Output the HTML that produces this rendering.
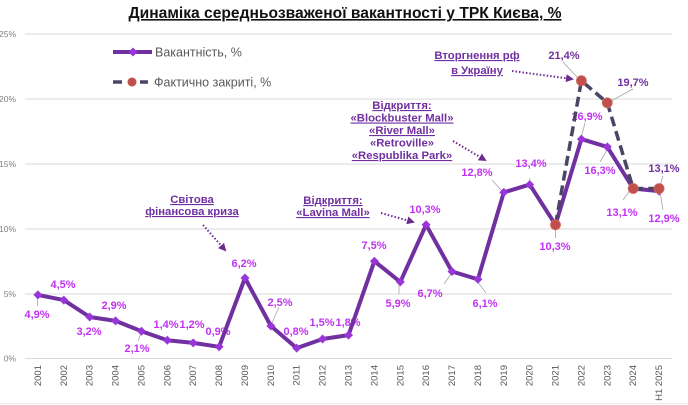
<!DOCTYPE html>
<html><head><meta charset="utf-8"><style>
html,body{margin:0;padding:0;background:#fff;}
svg{display:block;font-family:"Liberation Sans",Arial,sans-serif;}
.yl{font-size:8.5px;fill:#808080;text-anchor:end;}
.xl{font-size:9.5px;fill:#595959;text-anchor:end;}
.dl{font-size:11px;font-weight:bold;fill:#C232F2;text-anchor:middle;}
.dk{font-size:11px;font-weight:bold;fill:#7030A0;text-anchor:middle;}
.an{font-size:11.3px;font-weight:bold;fill:#7030A0;text-anchor:middle;text-decoration:underline;}
.ld{stroke:#a6a6a6;stroke-width:0.8;fill:none;}
</style></head><body>
<svg width="688" height="405" viewBox="0 0 688 405" xmlns="http://www.w3.org/2000/svg">
<defs>
<marker id="ah" markerWidth="8" markerHeight="8" refX="6" refY="4" orient="auto" markerUnits="userSpaceOnUse">
<path d="M0,0 L8,4 L0,8 Z" fill="#6B2C91"/>
</marker>
</defs>
<!-- title -->
<text x="345" y="18" font-size="16" font-weight="bold" fill="#111" text-anchor="middle" text-decoration="underline" textLength="433" lengthAdjust="spacingAndGlyphs">Динаміка середньозваженої вакантності у ТРК Києва, %</text>

<!-- gridlines -->
<g stroke="#d9d9d9" stroke-width="1">
<line x1="25" y1="34" x2="672" y2="34"/>
<line x1="25" y1="99" x2="672" y2="99"/>
<line x1="25" y1="164" x2="672" y2="164"/>
<line x1="25" y1="229" x2="672" y2="229"/>
<line x1="25" y1="294" x2="672" y2="294"/>
<line x1="25" y1="358.5" x2="672" y2="358.5"/>
</g>
<line x1="0" y1="403.5" x2="688" y2="403.5" stroke="#ececec" stroke-width="1"/>

<!-- y labels -->
<text class="yl" x="16" y="37">25%</text>
<text class="yl" x="16" y="102">20%</text>
<text class="yl" x="16" y="167">15%</text>
<text class="yl" x="16" y="232">10%</text>
<text class="yl" x="16" y="297">5%</text>
<text class="yl" x="16" y="361.5">0%</text>

<!-- x labels -->
<g>
<text class="xl" transform="translate(40.9,365) rotate(-90)">2001</text>
<text class="xl" transform="translate(66.8,365) rotate(-90)">2002</text>
<text class="xl" transform="translate(92.7,365) rotate(-90)">2003</text>
<text class="xl" transform="translate(118.6,365) rotate(-90)">2004</text>
<text class="xl" transform="translate(144.5,365) rotate(-90)">2005</text>
<text class="xl" transform="translate(170.3,365) rotate(-90)">2006</text>
<text class="xl" transform="translate(196.2,365) rotate(-90)">2007</text>
<text class="xl" transform="translate(222.1,365) rotate(-90)">2008</text>
<text class="xl" transform="translate(248.0,365) rotate(-90)">2009</text>
<text class="xl" transform="translate(273.9,365) rotate(-90)">2010</text>
<text class="xl" transform="translate(299.7,365) rotate(-90)">2011</text>
<text class="xl" transform="translate(325.6,365) rotate(-90)">2012</text>
<text class="xl" transform="translate(351.5,365) rotate(-90)">2013</text>
<text class="xl" transform="translate(377.4,365) rotate(-90)">2014</text>
<text class="xl" transform="translate(403.3,365) rotate(-90)">2015</text>
<text class="xl" transform="translate(429.1,365) rotate(-90)">2016</text>
<text class="xl" transform="translate(455.0,365) rotate(-90)">2017</text>
<text class="xl" transform="translate(480.9,365) rotate(-90)">2018</text>
<text class="xl" transform="translate(506.8,365) rotate(-90)">2019</text>
<text class="xl" transform="translate(532.7,365) rotate(-90)">2020</text>
<text class="xl" transform="translate(558.5,365) rotate(-90)">2021</text>
<text class="xl" transform="translate(584.4,365) rotate(-90)">2022</text>
<text class="xl" transform="translate(610.3,365) rotate(-90)">2023</text>
<text class="xl" transform="translate(636.2,365) rotate(-90)">2024</text>
<text class="xl" transform="translate(662.1,365) rotate(-90)">H1 2025</text>
</g>

<!-- legend -->
<line x1="113" y1="52" x2="152" y2="52" stroke="#7030A0" stroke-width="4"/>
<path d="M133,47.5 L137.5,52 L133,56.5 L128.5,52 Z" fill="#9A35DA"/>
<text x="155" y="56.5" font-size="12.5" fill="#595959">Вакантність, %</text>
<line x1="113" y1="82" x2="122" y2="82" stroke="#4B4565" stroke-width="3.5"/>
<line x1="140" y1="82" x2="148" y2="82" stroke="#4B4565" stroke-width="3.5"/>
<circle cx="132" cy="82" r="4.5" fill="#C0504D"/>
<text x="154" y="86.5" font-size="12.5" fill="#595959">Фактично закриті, %</text>

<!-- annotations -->
<text class="an" x="192" y="203">Світова</text>
<text class="an" x="192" y="215">фінансова криза</text>
<line x1="203" y1="225" x2="225" y2="250" stroke="#6B2C91" stroke-width="2" stroke-dasharray="1.5,2" marker-end="url(#ah)"/>

<text class="an" x="333" y="204">Відкриття:</text>
<text class="an" x="333" y="216">«Lavina Mall»</text>
<line x1="381" y1="213" x2="413" y2="222" stroke="#6B2C91" stroke-width="2" stroke-dasharray="1.5,2" marker-end="url(#ah)"/>

<text class="an" x="402" y="109">Відкриття:</text>
<text class="an" x="402" y="121.5">«Blockbuster Mall»</text>
<text class="an" x="402" y="134">«River Mall»</text>
<text class="an" x="402" y="146.5" text-decoration="none" style="text-decoration:none">«Retroville»</text>
<text class="an" x="402" y="159">«Respublika Park»</text>
<line x1="453" y1="141" x2="485" y2="160" stroke="#6B2C91" stroke-width="2" stroke-dasharray="1.5,2" marker-end="url(#ah)"/>

<text class="an" x="477" y="59">Вторгнення рф</text>
<text class="an" x="477" y="74">в Україну</text>
<line x1="512" y1="71" x2="572" y2="79" stroke="#6B2C91" stroke-width="2" stroke-dasharray="1.5,2" marker-end="url(#ah)"/>

<!-- data labels -->
<text class="dl" x="37" y="318">4,9%</text>
<text class="dl" x="63" y="288">4,5%</text>
<text class="dl" x="89" y="335">3,2%</text>
<text class="dl" x="114" y="309">2,9%</text>
<text class="dl" x="137" y="352">2,1%</text>
<text class="dl" x="166" y="328">1,4%</text>
<text class="dl" x="192" y="328">1,2%</text>
<text class="dl" x="218" y="335">0,9%</text>
<text class="dl" x="244" y="267">6,2%</text>
<text class="dl" x="280" y="306">2,5%</text>
<text class="dl" x="296" y="335">0,8%</text>
<text class="dl" x="322" y="326">1,5%</text>
<text class="dl" x="348" y="326">1,8%</text>
<text class="dl" x="374" y="249">7,5%</text>
<text class="dl" x="398" y="307">5,9%</text>
<text class="dl" x="425" y="213">10,3%</text>
<text class="dl" x="430" y="297">6,7%</text>
<text class="dl" x="485" y="307">6,1%</text>
<text class="dl" x="477" y="176">12,8%</text>
<text class="dl" x="531" y="167">13,4%</text>
<text class="dl" x="555" y="250">10,3%</text>
<text class="dl" x="587" y="120">16,9%</text>
<text class="dl" x="600" y="174">16,3%</text>
<text class="dl" x="622" y="216">13,1%</text>
<text class="dl" x="664" y="222">12,9%</text>
<text class="dk" x="664" y="172">13,1%</text>
<text class="dk" x="564" y="59">21,4%</text>
<text class="dk" x="633" y="86">19,7%</text>

<!-- leader lines -->
<line class="ld" x1="37.5" y1="297" x2="37.5" y2="306"/>
<line class="ld" x1="138" y1="341" x2="141" y2="333"/>
<line class="ld" x1="279" y1="307" x2="272" y2="323"/>
<line class="ld" x1="399" y1="284" x2="399" y2="294"/>
<line class="ld" x1="451" y1="274" x2="444" y2="284"/>
<line class="ld" x1="477" y1="281" x2="486" y2="293"/>
<line class="ld" x1="492" y1="180" x2="502" y2="191"/>
<line class="ld" x1="530" y1="178" x2="529" y2="184"/>
<line class="ld" x1="555.5" y1="227" x2="555.5" y2="238"/>
<line class="ld" x1="585" y1="123" x2="581" y2="138"/>
<line class="ld" x1="607" y1="150" x2="600" y2="162"/>
<line class="ld" x1="630" y1="190" x2="623" y2="200"/>
<line class="ld" x1="660" y1="192" x2="663" y2="210"/>
<line class="ld" x1="663" y1="176" x2="660" y2="186"/>
<line class="ld" x1="563" y1="62" x2="578" y2="78"/>
<line class="ld" x1="633" y1="89" x2="611" y2="101"/>

<!-- vacancy line -->
<polyline fill="none" stroke="#7030A0" stroke-width="4" stroke-linejoin="round"
points="37.9,294.9 63.8,300.1 89.7,317.0 115.6,320.9 141.5,331.2 167.3,340.3 193.2,342.9 219.1,346.8 245.0,278.0 270.9,326.0 296.7,348.1 322.6,339.0 348.5,335.1 374.4,261.2 400.3,281.9 426.1,224.8 452.0,271.5 477.9,279.3 503.8,192.4 529.7,184.6 555.5,224.8 581.4,139.1 607.3,146.9 633.2,188.5 659.1,191.1"/>
<g fill="#9A35DA">
<path d="M37.9,290.4 l4.5,4.5 l-4.5,4.5 l-4.5,-4.5 Z"/>
<path d="M63.8,295.6 l4.5,4.5 l-4.5,4.5 l-4.5,-4.5 Z"/>
<path d="M89.7,312.5 l4.5,4.5 l-4.5,4.5 l-4.5,-4.5 Z"/>
<path d="M115.6,316.4 l4.5,4.5 l-4.5,4.5 l-4.5,-4.5 Z"/>
<path d="M141.5,326.7 l4.5,4.5 l-4.5,4.5 l-4.5,-4.5 Z"/>
<path d="M167.3,335.8 l4.5,4.5 l-4.5,4.5 l-4.5,-4.5 Z"/>
<path d="M193.2,338.4 l4.5,4.5 l-4.5,4.5 l-4.5,-4.5 Z"/>
<path d="M219.1,342.3 l4.5,4.5 l-4.5,4.5 l-4.5,-4.5 Z"/>
<path d="M245.0,273.5 l4.5,4.5 l-4.5,4.5 l-4.5,-4.5 Z"/>
<path d="M270.9,321.5 l4.5,4.5 l-4.5,4.5 l-4.5,-4.5 Z"/>
<path d="M296.7,343.6 l4.5,4.5 l-4.5,4.5 l-4.5,-4.5 Z"/>
<path d="M322.6,334.5 l4.5,4.5 l-4.5,4.5 l-4.5,-4.5 Z"/>
<path d="M348.5,330.6 l4.5,4.5 l-4.5,4.5 l-4.5,-4.5 Z"/>
<path d="M374.4,256.7 l4.5,4.5 l-4.5,4.5 l-4.5,-4.5 Z"/>
<path d="M400.3,277.4 l4.5,4.5 l-4.5,4.5 l-4.5,-4.5 Z"/>
<path d="M426.1,220.3 l4.5,4.5 l-4.5,4.5 l-4.5,-4.5 Z"/>
<path d="M452.0,267.0 l4.5,4.5 l-4.5,4.5 l-4.5,-4.5 Z"/>
<path d="M477.9,274.8 l4.5,4.5 l-4.5,4.5 l-4.5,-4.5 Z"/>
<path d="M503.8,187.9 l4.5,4.5 l-4.5,4.5 l-4.5,-4.5 Z"/>
<path d="M529.7,180.1 l4.5,4.5 l-4.5,4.5 l-4.5,-4.5 Z"/>
<path d="M555.5,220.3 l4.5,4.5 l-4.5,4.5 l-4.5,-4.5 Z"/>
<path d="M581.4,134.6 l4.5,4.5 l-4.5,4.5 l-4.5,-4.5 Z"/>
<path d="M607.3,142.4 l4.5,4.5 l-4.5,4.5 l-4.5,-4.5 Z"/>
<path d="M633.2,184.0 l4.5,4.5 l-4.5,4.5 l-4.5,-4.5 Z"/>
<path d="M659.1,186.6 l4.5,4.5 l-4.5,4.5 l-4.5,-4.5 Z"/>
</g>

<!-- fact line -->
<polyline fill="none" stroke="#4B4565" stroke-width="3.5" stroke-dasharray="10,5"
points="555.5,224.8 581.4,80.7 607.3,102.8 633.2,188.5 659.1,188.5"/>
<g fill="#C0504D" stroke="#d36a5e" stroke-width="0.8">
<circle cx="555.5" cy="224.8" r="5"/>
<circle cx="581.4" cy="80.7" r="5"/>
<circle cx="607.3" cy="102.8" r="5"/>
<circle cx="633.2" cy="188.5" r="5"/>
<circle cx="659.1" cy="188.5" r="5"/>
</g>
</svg>
</body></html>
